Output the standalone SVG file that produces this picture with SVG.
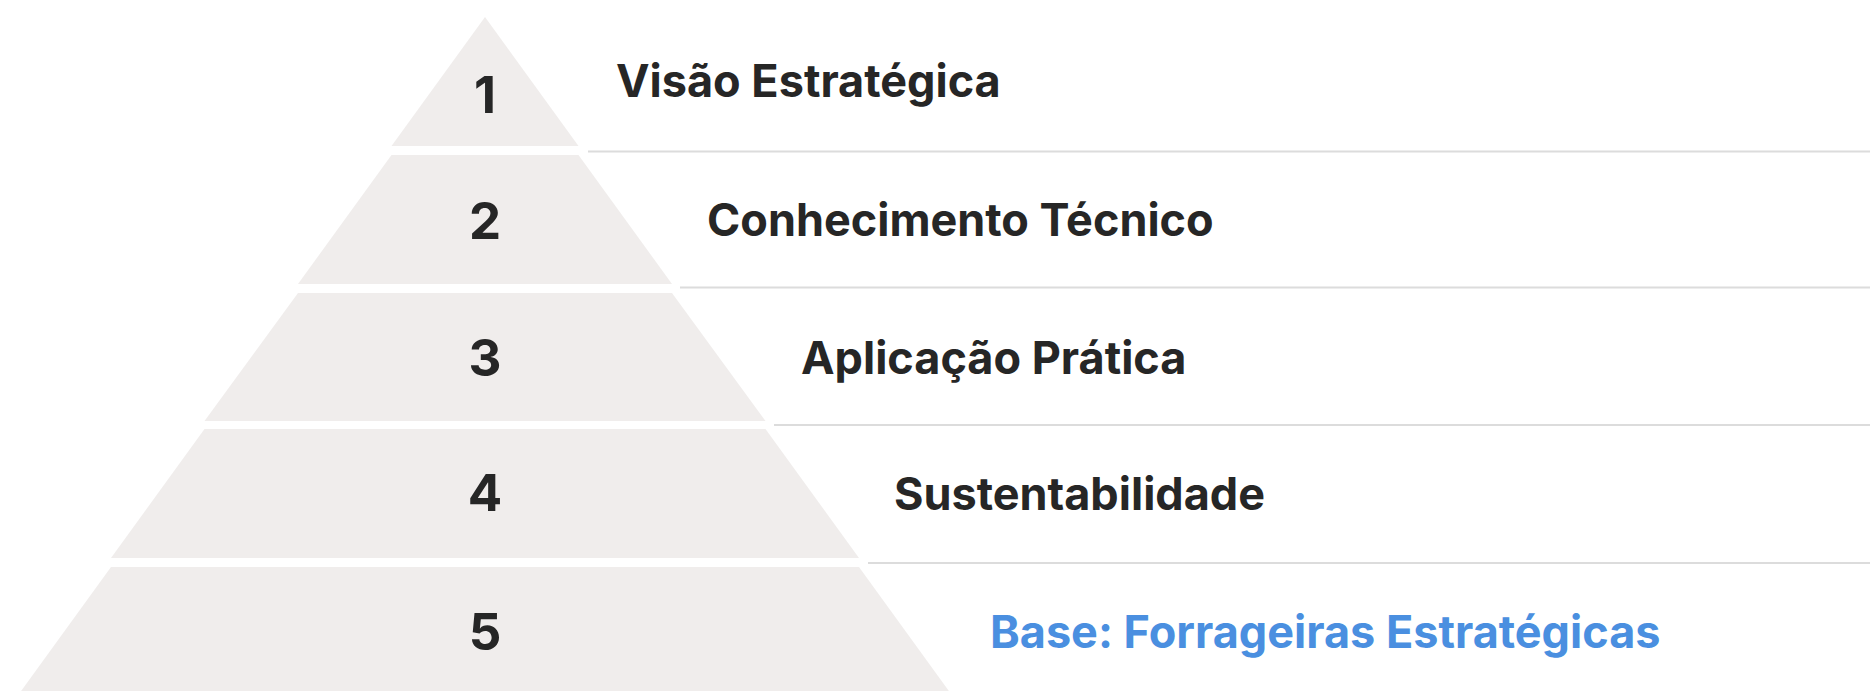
<svg xmlns="http://www.w3.org/2000/svg" width="1870" height="691" viewBox="0 0 1870 691">
<style>
.band{fill:#f0edec;}
.num{font-family:Inter,"Liberation Sans",sans-serif;font-weight:700;font-size:51px;fill:#262626;text-anchor:middle;}
.lbl{font-family:Inter,"Liberation Sans",sans-serif;font-weight:700;font-size:45px;fill:#262626;}
.base{fill:#4a8fe0;}
.sep{stroke:#dcdcdc;stroke-width:2;fill:none;}
</style>
<rect width="1870" height="691" fill="#ffffff"/>
<g id="connectors">
<line class="sep" x1="588" y1="151.5" x2="1870" y2="151.5"/>
<line class="sep" x1="680" y1="287.5" x2="1870" y2="287.5"/>
<line class="sep" x1="774" y1="425" x2="1870" y2="425"/>
<line class="sep" x1="868" y1="563" x2="1870" y2="563"/>
</g>
<g id="level1">
<polygon class="band" points="485,17 578.5,146 391.5,146"/>
<text class="num" x="485" y="113">1</text>
<text class="lbl" x="616" y="97">Visão Estratégica</text>
</g>
<g id="level2">
<polygon class="band" points="391.5,155 578.5,155 672,284 298,284"/>
<text class="num" x="485" y="239">2</text>
<text class="lbl" x="707" y="236">Conhecimento Técnico</text>
</g>
<g id="level3">
<polygon class="band" points="298,293 672,293 765.5,421 204.5,421"/>
<text class="num" x="485" y="376">3</text>
<text class="lbl" x="801" y="374">Aplicação Prática</text>
</g>
<g id="level4">
<polygon class="band" points="204.5,429 765.5,429 859,558 111,558"/>
<text class="num" x="485" y="511">4</text>
<text class="lbl" x="894" y="510">Sustentabilidade</text>
</g>
<g id="level5">
<polygon class="band" points="111,567 859,567 952.5,696 17.5,696"/>
<text class="num" x="485" y="650">5</text>
<text class="lbl base" x="990" y="648">Base: Forrageiras Estratégicas</text>
</g>
</svg>
